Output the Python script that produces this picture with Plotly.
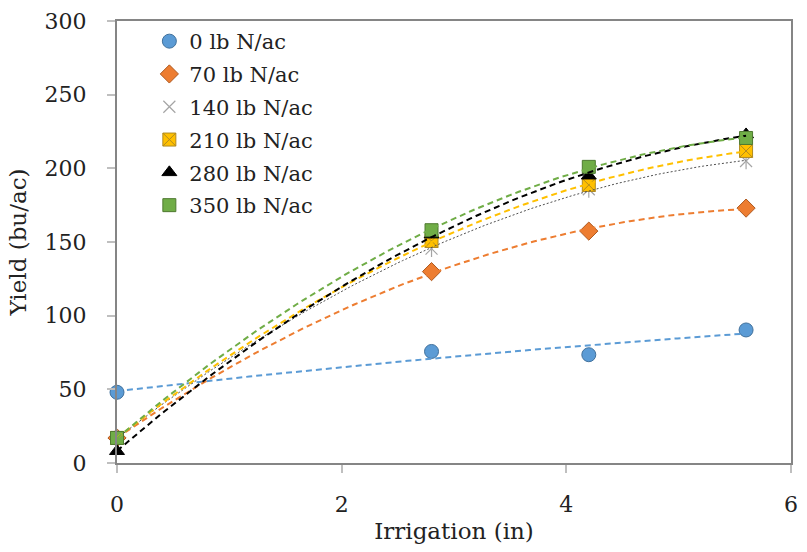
import numpy as np
import plotly.graph_objects as go

# Irrigation depth (in) at which yield was measured
irrigation = [0, 2.8, 4.2, 5.6]

# Nitrogen rate labels and yields (bu/ac)
rates = ["0 lb N/ac", "70 lb N/ac", "140 lb N/ac", "210 lb N/ac", "280 lb N/ac", "350 lb N/ac"]
yield_0 = [48, 75.7, 73.5, 90.3]
yield_70 = [17, 129.9, 157.4, 173]
yield_140 = [17, 145.5, 185.8, 205]
yield_210 = [17, 150.7, 188.7, 211.8]
yield_280 = [8, 155, 195, 223]
yield_350 = [17, 158, 201, 220.6]

x_ticks = [0, 2, 4, 6]
y_ticks = [0, 50, 100, 150, 200, 250, 300]

series = [yield_0, yield_70, yield_140, yield_210, yield_280, yield_350]

marker_styles = [
    dict(symbol="circle", size=14, color="#5B9BD5", line=dict(color="#41719C", width=1)),
    dict(symbol="diamond", size=14, color="#ED7D31", line=dict(color="#AE5A21", width=1)),
    dict(symbol="x-thin-open", size=12, color="#A5A5A5", line=dict(color="#A5A5A5", width=1.2)),
    dict(symbol="square-x", size=13, color="#FFC000", line=dict(color="#B08A20", width=1)),
    dict(symbol="triangle-up", size=13, color="#000000", line=dict(color="#000000", width=1)),
    dict(symbol="square", size=13, color="#70AD47", line=dict(color="#4E7A30", width=1)),
]

trend_styles = [
    dict(color="#5B9BD5", width=2, dash="6px,4px"),
    dict(color="#ED7D31", width=2, dash="6px,4px"),
    dict(color="#505050", width=1, dash="2px,2px"),
    dict(color="#FFC000", width=2, dash="6px,4px"),
    dict(color="#000000", width=2, dash="6px,4px"),
    dict(color="#70AD47", width=2, dash="6px,4px"),
]

serif = "DejaVu Serif"
fig = go.Figure()

# Measured points
for i, (name, ys) in enumerate(zip(rates, series)):
    fig.add_trace(go.Scatter(
        x=irrigation, y=ys, mode="markers", name=name,
        marker=marker_styles[i], cliponaxis=False,
        legendgroup=name,
    ))
    if i == 2:
        # vertical stroke completing the six-armed star marker
        fig.add_trace(go.Scatter(
            x=irrigation, y=ys, mode="markers", showlegend=False,
            marker=dict(symbol="line-ns-open", size=12, color="#A5A5A5",
                        line=dict(color="#A5A5A5", width=1.2)),
            cliponaxis=False, legendgroup=name,
        ))

# Second-order polynomial trend lines fitted to each series
x_fit = np.linspace(min(irrigation), max(irrigation), 120)
for i, ys in enumerate(series):
    coef = np.polyfit(irrigation, ys, 2)
    fig.add_trace(go.Scatter(
        x=x_fit, y=np.polyval(coef, x_fit), mode="lines",
        line=trend_styles[i], showlegend=False, hoverinfo="skip",
    ))

axis_font = dict(family=serif, size=22, color="#222222")
fig.update_layout(
    width=807, height=552,
    margin=dict(l=117, r=9, t=16, b=89),
    paper_bgcolor="white", plot_bgcolor="white",
    font=dict(family=serif, color="#222222"),
    showlegend=True,
    legend=dict(
        x=0.048, y=1.0, xanchor="left", yanchor="top",
        font=dict(family=serif, size=21, color="#222222"),
        bgcolor="rgba(0,0,0,0)", tracegroupgap=2.5,
    ),
    xaxis=dict(
        range=[0, 6], tickvals=x_ticks, ticks="outside", ticklen=8,
        tickcolor="#BFBFBF", tickwidth=1.5,
        showline=True, linecolor="#858585", linewidth=2, mirror=True,
        showgrid=False, zeroline=False, tickfont=axis_font,
        ticklabelstandoff=13,
        title=dict(text="Irrigation (in)", font=dict(family=serif, size=23, color="#222222"),
                   standoff=6),
    ),
    yaxis=dict(
        range=[0, 300], tickvals=y_ticks, ticks="outside", ticklen=8,
        tickcolor="#BFBFBF", tickwidth=1.5,
        showline=True, linecolor="#858585", linewidth=2, mirror=True,
        showgrid=False, zeroline=False, tickfont=axis_font,
        ticklabelstandoff=16,
        title=dict(text="Yield (bu/ac)", font=dict(family=serif, size=23, color="#222222"),
                   standoff=12),
    ),
    # companion axes carrying the inner half of the crossing tick marks
    xaxis2=dict(
        range=[0, 6], tickvals=x_ticks, ticks="inside", ticklen=8,
        tickcolor="#BFBFBF", tickwidth=1.5, overlaying="x", anchor="y",
        side="bottom", showticklabels=False, showgrid=False, zeroline=False,
        showline=False,
    ),
    yaxis2=dict(
        range=[0, 300], tickvals=y_ticks, ticks="inside", ticklen=8,
        tickcolor="#BFBFBF", tickwidth=1.5, overlaying="y", anchor="x",
        side="left", showticklabels=False, showgrid=False, zeroline=False,
        showline=False,
    ),
)

fig.write_html("out.html")
